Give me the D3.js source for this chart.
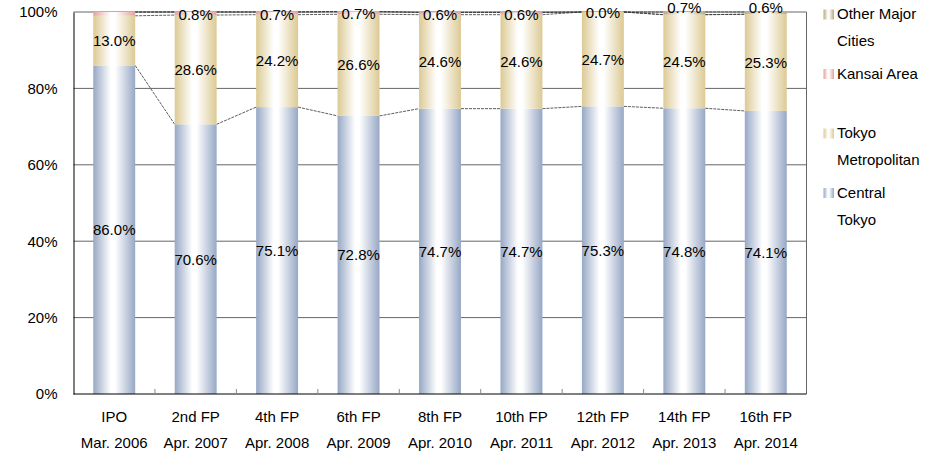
<!DOCTYPE html>
<html>
<head>
<meta charset="utf-8">
<script src="https://cdn.jsdelivr.net/npm/d3@7/dist/d3.min.js"></script>
<style>
  html, body { margin: 0; padding: 0; background: #fff; }
  svg { display: block; font-family: "Liberation Sans", Arial, sans-serif; }
</style>
</head>
<body>
<svg id="chart" width="939" height="455"></svg>
<script>
// ---- Data ----
const categories = ["IPO", "2nd FP", "4th FP", "6th FP", "8th FP", "10th FP", "12th FP", "14th FP", "16th FP"];
const periods = ["Mar. 2006", "Apr. 2007", "Apr. 2008", "Apr. 2009", "Apr. 2010", "Apr. 2011", "Apr. 2012", "Apr. 2013", "Apr. 2014"];
const seriesNames = ["Central Tokyo", "Tokyo Metropolitan", "Kansai Area", "Other Major Cities"];
const centralTokyo      = [86.0, 70.6, 75.1, 72.8, 74.7, 74.7, 75.3, 74.8, 74.1];
const tokyoMetropolitan = [13.0, 28.6, 24.2, 26.6, 24.6, 24.6, 24.7, 24.5, 25.3];
const kansaiArea        = [1.0, 0.8, 0.7, 0.7, 0.6, 0.6, 0.0, 0.0, 0.0];
const otherMajorCities  = [0.0, 0.0, 0.0, 0.0, 0.0, 0.0, 0.0, 0.7, 0.6];
// data labels shown (null = no label)
const centralLabels = centralTokyo;
const tokyoLabels   = tokyoMetropolitan;
const kansaiLabels  = [null, 0.8, 0.7, 0.7, 0.6, 0.6, 0.0, null, null];
const otherLabels   = [null, null, null, null, null, null, null, 0.7, 0.6];
const yTicks = [0, 20, 40, 60, 80, 100];
const legendLines = [["Other Major", "Cities"], ["Kansai Area"], ["Tokyo", "Metropolitan"], ["Central", "Tokyo"]];

// ---- Styles ----
const colors = {
  "Central Tokyo": "#97a8c5",
  "Tokyo Metropolitan": "#dcca94",
  "Kansai Area": "#e3a39d",
  "Other Major Cities": "#b9a97a"
};
const labelsBySeries = {
  "Central Tokyo": centralLabels,
  "Tokyo Metropolitan": tokyoLabels,
  "Kansai Area": kansaiLabels,
  "Other Major Cities": otherLabels
};
const labelDy = { "Central Tokyo": 0, "Tokyo Metropolitan": 0, "Kansai Area": 1, "Other Major Cities": -6 };

const rows = categories.map((c, i) => ({
  cat: c,
  "Central Tokyo": centralTokyo[i],
  "Tokyo Metropolitan": tokyoMetropolitan[i],
  "Kansai Area": kansaiArea[i],
  "Other Major Cities": otherMajorCities[i]
}));

const svg = d3.select("#chart");
const plot = { left: 73.5, right: 806.5, top: 12, bottom: 394 };

const x = d3.scaleBand().domain(categories).range([plot.left, plot.right])
  .paddingInner(0.485).paddingOuter(0.2425);
const y = d3.scaleLinear().domain([0, 100]).range([plot.bottom, plot.top]);

const stacked = d3.stack().keys(seriesNames)(rows);

// gradients
const defs = svg.append("defs");
seriesNames.forEach((s, k) => {
  const g = defs.append("linearGradient").attr("id", "grad" + k)
    .attr("x1", "0").attr("x2", "1").attr("y1", "0").attr("y2", "0");
  g.append("stop").attr("offset", "0").attr("stop-color", colors[s]);
  g.append("stop").attr("offset", "0.42").attr("stop-color", "#ffffff");
  g.append("stop").attr("offset", "0.52").attr("stop-color", "#ffffff");
  g.append("stop").attr("offset", "1").attr("stop-color", colors[s]);
});

// gridlines
svg.append("g").selectAll("line").data(yTicks.filter(t => t > 0)).join("line")
  .attr("x1", plot.left).attr("x2", plot.right)
  .attr("y1", d => y(d)).attr("y2", d => y(d))
  .attr("stroke", "#666").attr("stroke-width", 1);

// right border
svg.append("line").attr("x1", plot.right).attr("x2", plot.right)
  .attr("y1", plot.top).attr("y2", plot.bottom)
  .attr("stroke", "#666").attr("stroke-width", 1);

// series lines
const bw = x.bandwidth();
stacked.forEach(layer => {
  const segs = [];
  for (let i = 0; i < layer.length - 1; i++) {
    segs.push({ x1: x(categories[i]) + bw, y1: y(layer[i][1]), x2: x(categories[i + 1]), y2: y(layer[i + 1][1]) });
  }
  svg.append("g").selectAll("line").data(segs).join("line")
    .attr("x1", d => d.x1).attr("y1", d => d.y1)
    .attr("x2", d => d.x2).attr("y2", d => d.y2)
    .attr("stroke", "#333").attr("stroke-width", 0.8)
    .attr("stroke-dasharray", "3,1");
});

// bars
stacked.forEach((layer, k) => {
  svg.append("g").selectAll("rect").data(layer).join("rect")
    .attr("x", d => x(d.data.cat))
    .attr("width", bw)
    .attr("y", d => y(d[1]))
    .attr("height", d => Math.max(0, y(d[0]) - y(d[1])))
    .attr("fill", "url(#grad" + k + ")");
});

// axes
const yAxis = d3.axisLeft(y).tickValues(yTicks).tickSize(0).tickPadding(16).tickFormat(d => d + "%");
const ga = svg.append("g").attr("transform", `translate(${plot.left},0)`).call(yAxis);
ga.select(".domain").attr("stroke", "#000").attr("stroke-width", 1);
ga.selectAll("text").attr("font-size", 15).attr("fill", "#000")
  .attr("font-family", "Liberation Sans, Arial, sans-serif");

// bottom axis line
svg.append("line").attr("x1", plot.left).attr("x2", plot.right)
  .attr("y1", plot.bottom).attr("y2", plot.bottom)
  .attr("stroke", "#000").attr("stroke-width", 1);

// category boundary ticks (inside)
const step = x.step();
const bounds = categories.slice(1).map(c => x(c) - (step - bw) / 2);
svg.append("g").selectAll("line").data(bounds).join("line")
  .attr("x1", d => d).attr("x2", d => d)
  .attr("y1", plot.bottom).attr("y2", plot.bottom - 5)
  .attr("stroke", "#888").attr("stroke-width", 1);

// x labels
const xl = svg.append("g");
xl.selectAll("text.cat").data(categories).join("text").attr("class", "cat")
  .attr("x", d => x(d) + bw / 2).attr("y", 422)
  .attr("text-anchor", "middle").attr("font-size", 15).attr("fill", "#000")
  .text(d => d);
xl.selectAll("text.per").data(categories).join("text").attr("class", "per")
  .attr("x", d => x(d) + bw / 2).attr("y", 448)
  .attr("text-anchor", "middle").attr("font-size", 15).attr("fill", "#000")
  .text((d, i) => periods[i]);

// data labels
stacked.forEach(layer => {
  const s = layer.key;
  const labs = labelsBySeries[s];
  const data = layer.map((d, i) => ({ d, v: labs[i], i })).filter(o => o.v !== null);
  svg.append("g").selectAll("text").data(data).join("text")
    .attr("x", o => x(o.d.data.cat) + bw / 2)
    .attr("y", o => (y(o.d[0]) + y(o.d[1])) / 2 + labelDy[s])
    .attr("dy", "0.36em")
    .attr("text-anchor", "middle").attr("font-size", 15).attr("fill", "#000")
    .text(o => o.v.toFixed(1) + "%");
});

// legend
const legendTop = [9.5, 69, 128.5, 188];
const lg = svg.append("g");
legendLines.forEach((lines, k) => {
  const s = seriesNames[seriesNames.length - 1 - k];
  const gi = seriesNames.indexOf(s);
  lg.append("rect").attr("x", 823.5).attr("y", legendTop[k]).attr("width", 10.5).attr("height", 10)
    .attr("fill", "url(#grad" + gi + ")");
  lines.forEach((t, j) => {
    lg.append("text").attr("x", 837).attr("y", legendTop[k] + 9.5 + j * 27)
      .attr("font-size", 15).attr("fill", "#000").text(t);
  });
});
</script>
</body>
</html>
